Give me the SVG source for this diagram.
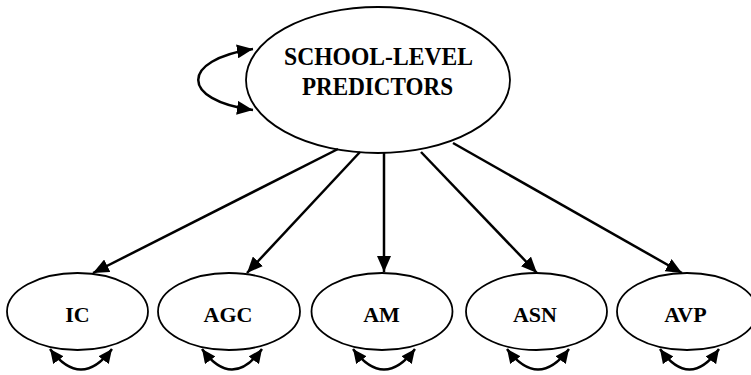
<svg xmlns="http://www.w3.org/2000/svg" width="751" height="375" viewBox="0 0 751 375">
<style>
.node{fill:#fff;stroke:#000;stroke-width:1.8}
.lbl{font-family:"Liberation Serif","Times New Roman",serif;font-weight:bold;fill:#000;text-anchor:middle}
.top{font-size:26px}
.bot{font-size:22px}
.edge{fill:none;stroke:#000;stroke-width:2.5}
</style>
<defs>
<marker id="ah" markerUnits="userSpaceOnUse" markerWidth="17" markerHeight="14" refX="16" refY="7" orient="auto-start-reverse">
<path d="M0,0 L16,7 L0,14 z" fill="#000"/>
</marker>
<marker id="ahs" markerUnits="userSpaceOnUse" markerWidth="15" markerHeight="13" refX="14" refY="6.5" orient="auto-start-reverse">
<path d="M0,0 L14,6.5 L0,13 z" fill="#000"/>
</marker>
</defs>
<g id="school">
<ellipse class="node" cx="378" cy="80" rx="132" ry="73"/>
<text class="lbl top" x="378.5" y="65" textLength="189" lengthAdjust="spacingAndGlyphs">SCHOOL-LEVEL</text>
<text class="lbl top" x="377.5" y="95" textLength="151" lengthAdjust="spacingAndGlyphs">PREDICTORS</text>
</g>
<g id="IC">
<ellipse class="node" cx="77.5" cy="311.5" rx="70.5" ry="38.5"/>
<text class="lbl bot" x="77.5" y="322">IC</text>
</g>
<g id="AGC">
<ellipse class="node" cx="229" cy="311.5" rx="71" ry="38.5"/>
<text class="lbl bot" x="228" y="322">AGC</text>
</g>
<g id="AM">
<ellipse class="node" cx="382" cy="311.5" rx="70.5" ry="38.5"/>
<text class="lbl bot" x="381.5" y="322">AM</text>
</g>
<g id="ASN">
<ellipse class="node" cx="536.5" cy="311.5" rx="70.5" ry="38.5"/>
<text class="lbl bot" x="535" y="322">ASN</text>
</g>
<g id="AVP">
<ellipse class="node" cx="687" cy="311.5" rx="70" ry="38.5"/>
<text class="lbl bot" x="685.5" y="322">AVP</text>
</g>
<g id="connectors">
<path class="edge" d="M253,49 C180,60 180,100 253,110" marker-start="url(#ah)" marker-end="url(#ah)"/>
<line class="edge" x1="338" y1="149" x2="93" y2="273" marker-end="url(#ah)"/>
<line class="edge" x1="360" y1="152" x2="247" y2="273" marker-end="url(#ah)"/>
<line class="edge" x1="384" y1="152" x2="384" y2="272" marker-end="url(#ah)"/>
<line class="edge" x1="421" y1="152" x2="537" y2="273" marker-end="url(#ah)"/>
<line class="edge" x1="453" y1="143" x2="682" y2="273" marker-end="url(#ah)"/>
<path class="edge" d="M50,349 Q81,390 112,349" marker-start="url(#ahs)" marker-end="url(#ahs)"/>
<path class="edge" d="M202,349 Q232,390 262,349" marker-start="url(#ahs)" marker-end="url(#ahs)"/>
<path class="edge" d="M353,349 Q384,390 415,349" marker-start="url(#ahs)" marker-end="url(#ahs)"/>
<path class="edge" d="M507,349 Q538,390 569,349" marker-start="url(#ahs)" marker-end="url(#ahs)"/>
<path class="edge" d="M660,349 Q689.5,390 719,349" marker-start="url(#ahs)" marker-end="url(#ahs)"/>
</g>
</svg>
